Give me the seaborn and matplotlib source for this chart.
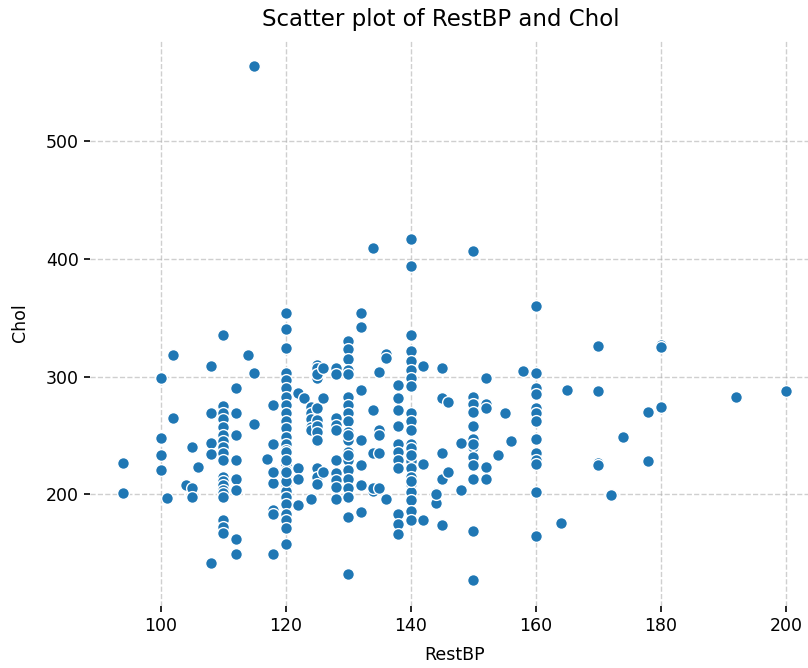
import pandas as pd
import matplotlib
matplotlib.use("Agg")
import matplotlib.pyplot as plt
import seaborn as sns

# ================= data =================
# values grouped by resting blood pressure column
bp_low = [94, 94, 100, 100, 100, 100, 101, 102, 102, 104, 105, 105, 105, 106,
          108, 108, 108, 108, 108]
chol_low = [227, 201, 299, 248, 233, 221, 197, 318, 265, 208, 240, 205, 198, 223,
            309, 269, 244, 234, 142]

bp_110 = [110] * 19 + [112] * 8 + [114, 115, 115, 115, 117] + [118] * 8
chol_110 = [335, 275, 269, 264, 257, 250, 245, 240, 235, 229, 215, 211, 208, 204,
            201, 198, 178, 172, 167,
            290, 269, 250, 229, 213, 204, 162, 149,
            318, 303, 260, 564, 230,
            276, 243, 220, 210, 187, 183, 149, 219]

bp_120 = [120] * 30
chol_120 = [354, 340, 324, 303, 297, 290, 283, 276, 269, 262, 256, 249, 243, 238,
            232, 226, 221, 215, 209, 203, 198, 192, 183, 178, 171, 158, 236, 229,
            211, 219]

bp_125 = ([122] * 4 + [123] + [124] * 6 + [125] * 14 + [126] * 3 + [128] * 10)
chol_125 = [286, 222, 213, 191,
            282,
            274, 269, 264, 257, 255, 196,
            310, 305, 299, 273, 263, 258, 253, 245, 222, 215, 209, 307, 302, 246,
            307, 282, 219,
            307, 302, 265, 259, 255, 229, 218, 212, 206, 196]

bp_130 = [130] * 21 + [132] * 7 + [134] * 5 + [135] * 5 + [136] * 3
chol_130 = [330, 323, 315, 306, 302, 283, 276, 269, 262, 253, 246, 236, 229, 221,
            213, 205, 198, 181, 132, 250, 233,
            354, 342, 289, 246, 225, 208, 185,
            409, 272, 235, 203, 205,
            304, 255, 250, 235, 205,
            319, 316, 196]

bp_140 = [138] * 11 + [140] * 24 + [142] * 3 + [144] * 3 + [145] * 5 + [146] * 2
chol_140 = [293, 282, 272, 258, 243, 236, 229, 222, 183, 175, 166,
            417, 394, 335, 322, 313, 306, 299, 292, 269, 262, 255, 243, 235, 228,
            222, 215, 209, 202, 195, 186, 178, 239, 211, 233,
            309, 226, 178,
            201, 193, 200,
            307, 282, 235, 213, 174,
            278, 219]

bp_150 = [148, 148] + [150] * 13 + [152] * 5 + [154, 155, 156, 158]
chol_150 = [244, 204,
            407, 283, 277, 270, 258, 247, 240, 232, 225, 213, 169, 127, 243,
            299, 277, 273, 223, 213,
            233, 269, 245, 305]

bp_160 = [160] * 13 + [164, 165, 170, 170, 170, 170, 172, 174, 178, 178, 180, 180,
                       180, 192, 200]
chol_160 = [360, 303, 290, 285, 273, 269, 262, 247, 235, 229, 226, 202, 165,
            176, 289, 326, 288, 227, 225, 199, 249, 270, 228, 327, 325, 274,
            283, 288]

rest_bp = bp_low + bp_110 + bp_120 + bp_125 + bp_130 + bp_140 + bp_150 + bp_160
chol = chol_low + chol_110 + chol_120 + chol_125 + chol_130 + chol_140 + chol_150 + chol_160

df = pd.DataFrame({"RestBP": rest_bp, "Chol": chol})

# ================= plot =================
fig = plt.figure(figsize=(8.08, 6.68), dpi=100)
ax = fig.add_axes([90 / 808, 62 / 668, 729 / 808, 566 / 668])

sns.scatterplot(data=df, x="RestBP", y="Chol", ax=ax, s=72, color="#1f77b4",
                edgecolor="white", linewidth=1.0)

ax.grid(True, linestyle="--", color="#b0b0b0", alpha=0.6, linewidth=1.0)
ax.set_axisbelow(True)
sns.despine(ax=ax, left=True, bottom=True)
ax.tick_params(labelsize=12.5, length=4.5, width=1.2)

ax.set_title("Scatter plot of RestBP and Chol", fontsize=16.5, pad=10,
             x=(441 - 90) / 729)
ax.set_xlabel("RestBP", fontsize=12.5, labelpad=8)
ax.set_ylabel("Chol", fontsize=12.5, labelpad=12)

fig.savefig("out.png", dpi=100)
